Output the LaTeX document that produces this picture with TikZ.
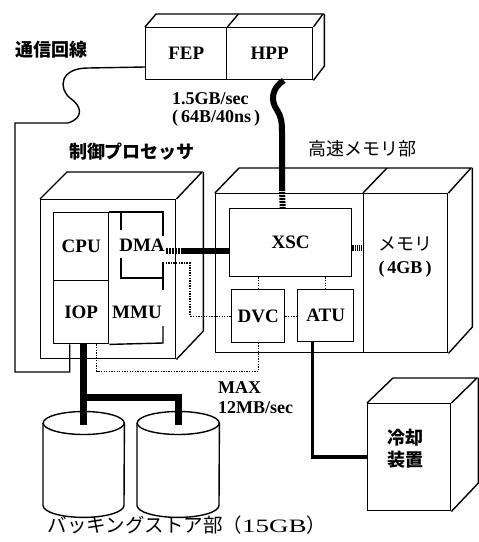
\documentclass[tikz,border=0pt]{standalone}
\usepackage{fontspec}
\setmainfont{Liberation Serif}
\newfontfamily\jp{Noto Sans CJK JP}
\begin{document}
\begin{tikzpicture}[x=1pt,y=-1pt,line join=miter,
  every node/.style={font=\fontsize{19}{21}\selectfont\bfseries},
  thinline/.style={line width=1.4pt},
  box/.style={draw,line width=1.4pt,inner sep=0pt,anchor=north west,fill=white},
  lbl/.style={inner sep=0pt},
  bus/.style={line width=6pt},
  dots/.style={line width=1.3pt,dash pattern=on 1.3pt off 1.3pt},
]
\useasboundingbox (0,0) rectangle (479,542);
\fill[white] (0,0) rectangle (479,542);

% ---------- FEP / HPP cube
\node[box,minimum width=81pt,minimum height=52pt] (fep) at (145,27) {FEP};
\node[box,minimum width=86pt,minimum height=52pt] (hpp) at (226,27) {HPP};
\draw[thinline] (fep.north west) -- ++(11,-13) -- ++(167,0) -- (hpp.north east);
\draw[thinline] (fep.north east) -- ++(11,-13);
\draw[thinline] ([shift={(11pt,13pt)}]hpp.north east) -- ++(0,52) -- (hpp.south east);

% ---------- control processor cube
\node[box,minimum width=135pt,minimum height=159pt] (cp) at (40,199) {};
\draw[thinline] (cp.north west) -- ++(27,-27) -- ++(135,0) -- (cp.north east);
\draw[thinline] ([shift={(27pt,27pt)}]cp.north east) -- ++(0,159) -- (cp.south east);
\node[box,minimum width=55pt,minimum height=68pt] (cpu) at (53,212) {CPU};
\node[box,minimum width=55pt,minimum height=63pt] (iop) at (53,280) {IOP};
\draw[thinline] (cpu.north east) -- (163,212) -- (163,236);
\draw[thinline] (163,262) -- (163,290);
\draw[thinline] (163,326) -- (163,343) -- (iop.south east);
\draw[thinline] (121,212) -- (121,230);
\draw[thinline] (121,258) -- (121,278) -- (163,278);
\node[lbl] (dma) at (142,245) {DMA};
\node[lbl] (mmu) at (137,312) {MMU};

% ---------- high speed memory cube
\node[box,minimum width=232pt,minimum height=159pt] (hsm) at (215,193) {};
\node[box,minimum width=84pt,minimum height=159pt] (mem) at (363,193) {};
\draw[thinline] (hsm.north west) -- ++(24,-25) -- ++(232,0) -- (hsm.north east);
\draw[thinline] (mem.north west) -- ++(24,-25);
\draw[thinline] ([shift={(24pt,25pt)}]hsm.north east) -- ++(0,159) -- (hsm.south east);
\node[lbl,align=center,font=\fontsize{18}{23}\selectfont\bfseries] (memtxt) at (405,257) {{\jp\mdseries メモリ}\\(\,4GB\,)};
\node[box,minimum width=122pt,minimum height=68pt] (xsc) at (229,208) {XSC};
\node[box,minimum width=53pt,minimum height=53pt] (dvc) at (231,289) {DVC};
\node[box,minimum width=56pt,minimum height=52pt] (atu) at (297,289) {ATU};

% ---------- cooling unit
\node[box,minimum width=83pt,minimum height=107pt] (cool) at (367,403) {};
\draw[thinline] (cool.north west) -- ++(26,-25) -- ++(84,0) -- (cool.north east);
\draw[thinline] ([shift={(27pt,25pt)}]cool.north east) -- ++(0,105) -- (cool.south east);
\node[lbl,align=center,font=\fontsize{18}{22}\jp\bfseries] (cooltxt) at (405,449) {冷却\\装置};

% ---------- disks
\node[inner sep=0pt,minimum width=81pt,minimum height=82pt,anchor=north west] (d1) at (43,423) {};
\node[inner sep=0pt,minimum width=82pt,minimum height=82pt,anchor=north west] (d2) at (137,423) {};
\foreach \d/\r in {d1/40.5,d2/41}{
  \draw[thinline,fill=white] (\d.north west) -- (\d.south west)
     arc[start angle=180,end angle=360,x radius=\r pt,y radius=12pt] -- (\d.north east);
  \draw[thinline,fill=white] (\d.north) ellipse[x radius=\r pt,y radius=11.5pt];
}

% ---------- connectors
% communication line
\coordinate (fepl) at (145,67);
\draw[thinline] (fepl) -- (88,68) .. controls (60,68) and (58,88) .. (70,98)
   .. controls (82,106) and (84,118) .. (68,123) -- (15,123) -- (15,372)
   -| ([xshift=-11.5pt]iop.south);
% HPP - XSC
\coordinate (hppout) at ([xshift=14pt]hpp.south);
\coordinate (hppin) at ([xshift=-8pt]xsc.north);
\draw[bus] (hppout) .. controls (272,88) and (270,100) .. (277,110)
   .. controls (281,116) and (282,122) .. (282,132) -- (282,190);
\draw[bus,dash pattern=on 2pt off 1pt] (282,189) -- (hppin);
% DMA - XSC
\coordinate (dmaout) at (166,251);
\draw[bus,dash pattern=on 2pt off 1pt] (dmaout) -- ++(16,0);
\draw[bus] ([xshift=15pt]dmaout) -- (dmaout -| xsc.west);
% XSC - memory
\coordinate (xscm) at ([yshift=-5pt]xsc.east);
\draw[bus,dash pattern=on 1.2pt off 1pt] (xscm) -- (xscm -| mem.west);
% ATU - cooling
\coordinate (atuout) at ([xshift=-13pt]atu.south);
\draw[line width=3.5pt] (atuout) |- (cool.west);
% IOP - disks
\coordinate (iopout) at (iop.south -| d1.north);
\coordinate (br) at (83.5,397);
\draw[line width=7pt] (iopout) -- ([yshift=-2pt]d1.north);
\draw[line width=7pt] ([xshift=-3.5pt]br) -| ([yshift=-2pt]d2.north);
% dotted control lines
\coordinate (dmad) at (163,263);
\draw[dots] (dmad) -- (190,263) |- (dvc.west);
\draw[dots] (dvc.north) -- (dvc.north |- xsc.south);
\draw[dots] (atu.north) -- (atu.north |- xsc.south);
\draw[dots] (dvc.east) -- (dvc.east -| atu.west);
\coordinate (iopd) at ([xshift=15.5pt]iop.south);
\draw[dots] (iopd) -- ++(0,27) -| (dvc.south);

% ---------- labels
\node[lbl,font=\fontsize{18}{20}\jp\bfseries] (tsushin) at (52,50) {通信回線};
\node[lbl,font=\fontsize{18}{20}\jp\bfseries] (cpl) at (132,152) {制御プロセッサ};
\node[lbl,font=\fontsize{18}{20}\jp] (hsml) at (362,149) {高速メモリ部};
\node[lbl,align=left,anchor=west,font=\fontsize{18}{18}\selectfont\bfseries] (bw1) at (172,109) {1.5GB/sec\\(\,64B/40ns\,)};
\node[lbl,align=left,anchor=west,font=\fontsize{18}{20}\selectfont\bfseries] (bw2) at (218,398) {MAX\\12MB/sec};
\node[lbl,font=\fontsize{19.5}{20}\jp] (bsl) at (187,525) {バッキングストア部（\scalebox{1.5}[1.05]{\rmfamily\mdseries\fontsize{18}{20}\selectfont 15GB}）};
\end{tikzpicture}
\end{document}
